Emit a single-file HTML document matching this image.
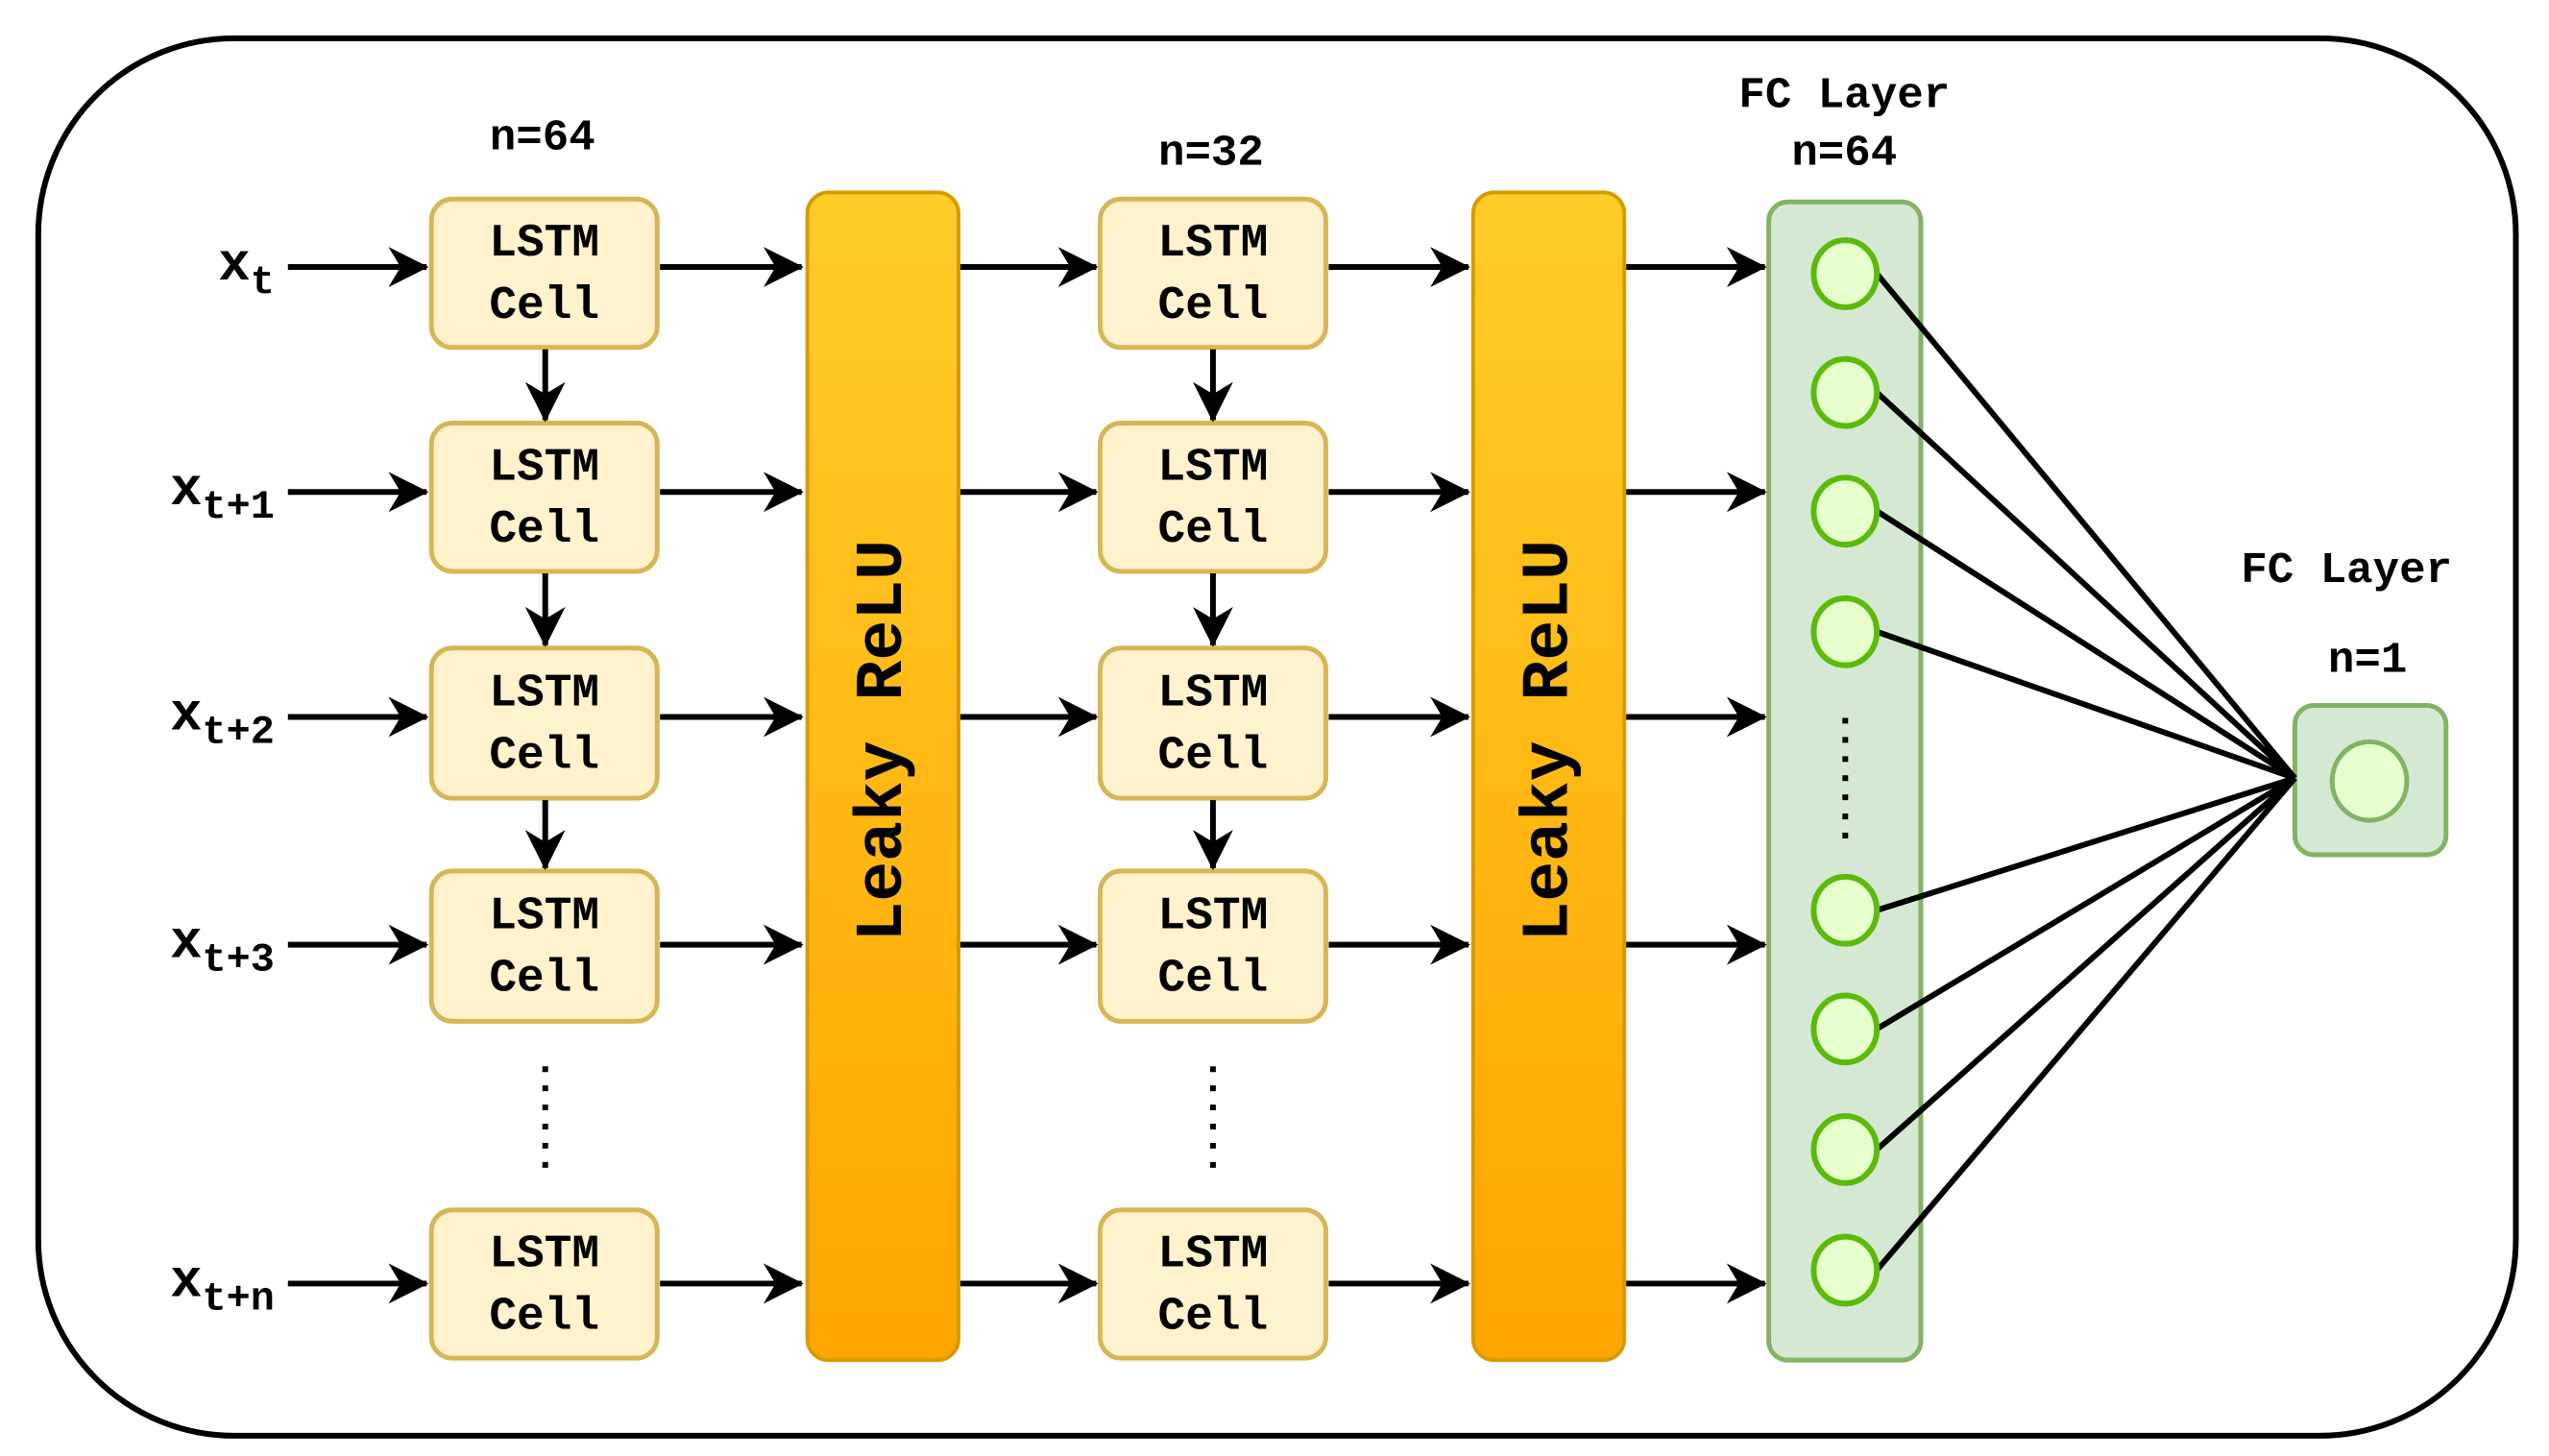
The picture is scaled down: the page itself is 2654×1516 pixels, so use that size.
<!DOCTYPE html>
<html><head><meta charset="utf-8"><style>html,body{margin:0;padding:0;background:#fff}svg{display:block}</style></head>
<body>
<svg width="2654" height="1516" viewBox="0 0 2654 1516" xmlns="http://www.w3.org/2000/svg">
<defs>
<linearGradient id="g" x1="0" y1="0" x2="0" y2="1"><stop offset="0" stop-color="#ffcd28"/><stop offset="1" stop-color="#ffa500"/></linearGradient>
<marker id="a" viewBox="0 0 20 20" refX="19" refY="10" markerWidth="7" markerHeight="7" markerUnits="strokeWidth" orient="auto"><path d="M0,0 L20,10 L0,20 L6,10 Z" fill="#000"/></marker>
</defs>
<g transform="scale(0.996,0.9966)">
<rect x="40" y="40" width="2590" height="1460" rx="205" fill="#fff" stroke="#000" stroke-width="6"/>
<g font-family="'Liberation Mono',monospace" font-weight="bold" fill="#000">
<rect x="844" y="201" width="158" height="1220" rx="22" fill="url(#g)" stroke="#d79b00" stroke-width="4"/>
<rect x="1540" y="201" width="158" height="1220" rx="22" fill="url(#g)" stroke="#d79b00" stroke-width="4"/>
<text transform="translate(942,774) rotate(-90)" font-size="70" text-anchor="middle">Leaky ReLU</text>
<text transform="translate(1638,774) rotate(-90)" font-size="70" text-anchor="middle">Leaky ReLU</text>
<rect x="1849" y="211" width="159" height="1210" rx="20" fill="#d5e8d4" stroke="#82b366" stroke-width="5"/>
<rect x="2399" y="737" width="158" height="156" rx="20" fill="#d5e8d4" stroke="#82b366" stroke-width="5"/>
<ellipse cx="2477" cy="816" rx="39" ry="41" fill="#e6ffcc" stroke="#82b366" stroke-width="5"/>
<g stroke="#000" stroke-width="6">
<line x1="1962" y1="286" x2="2399" y2="813"/><line x1="1962" y1="410" x2="2399" y2="813"/>
<line x1="1962" y1="534" x2="2399" y2="813"/><line x1="1962" y1="660" x2="2399" y2="813"/>
<line x1="1962" y1="951" x2="2399" y2="813"/><line x1="1962" y1="1075" x2="2399" y2="813"/>
<line x1="1962" y1="1201" x2="2399" y2="813"/><line x1="1962" y1="1327" x2="2399" y2="813"/>
</g>
<g fill="#e6ffcc" stroke="#5cbb0a" stroke-width="6">
<ellipse cx="1929" cy="286" rx="33" ry="35"/><ellipse cx="1929" cy="410" rx="33" ry="35"/>
<ellipse cx="1929" cy="534" rx="33" ry="35"/><ellipse cx="1929" cy="660" rx="33" ry="35"/>
<ellipse cx="1929" cy="951" rx="33" ry="35"/><ellipse cx="1929" cy="1075" rx="33" ry="35"/>
<ellipse cx="1929" cy="1201" rx="33" ry="35"/><ellipse cx="1929" cy="1327" rx="33" ry="35"/>
</g>
<g stroke="#000" stroke-width="6" stroke-dasharray="6,14">
<line x1="1929" y1="750" x2="1929" y2="880"/>
<line x1="570" y1="1114" x2="570" y2="1220"/>
<line x1="1268" y1="1114" x2="1268" y2="1220"/>
</g>
<g fill="#fff2cc" stroke="#d6b656" stroke-width="5">
<rect x="451" y="208" width="236" height="155" rx="22"/><rect x="451" y="442" width="236" height="155" rx="22"/>
<rect x="451" y="677" width="236" height="157" rx="22"/><rect x="451" y="910" width="236" height="157" rx="22"/>
<rect x="451" y="1264" width="236" height="155" rx="22"/>
<rect x="1150" y="208" width="236" height="155" rx="22"/><rect x="1150" y="442" width="236" height="155" rx="22"/>
<rect x="1150" y="677" width="236" height="157" rx="22"/><rect x="1150" y="910" width="236" height="157" rx="22"/>
<rect x="1150" y="1264" width="236" height="155" rx="22"/>
</g>
<g font-size="48" text-anchor="middle">
<text x="569" y="267">LSTM</text><text x="569" y="332">Cell</text>
<text x="569" y="501">LSTM</text><text x="569" y="566">Cell</text>
<text x="569" y="737">LSTM</text><text x="569" y="802">Cell</text>
<text x="569" y="970">LSTM</text><text x="569" y="1035">Cell</text>
<text x="569" y="1323">LSTM</text><text x="569" y="1388">Cell</text>
<text x="1268" y="267">LSTM</text><text x="1268" y="332">Cell</text>
<text x="1268" y="501">LSTM</text><text x="1268" y="566">Cell</text>
<text x="1268" y="737">LSTM</text><text x="1268" y="802">Cell</text>
<text x="1268" y="970">LSTM</text><text x="1268" y="1035">Cell</text>
<text x="1268" y="1323">LSTM</text><text x="1268" y="1388">Cell</text>
</g>
<g stroke="#000" stroke-width="6" marker-end="url(#a)">
<line x1="301" y1="279" x2="446" y2="279"/><line x1="301" y1="514" x2="446" y2="514"/>
<line x1="301" y1="749" x2="446" y2="749"/><line x1="301" y1="987" x2="446" y2="987"/>
<line x1="301" y1="1341" x2="446" y2="1341"/>
<line x1="690" y1="279" x2="838" y2="279"/><line x1="690" y1="514" x2="838" y2="514"/>
<line x1="690" y1="749" x2="838" y2="749"/><line x1="690" y1="987" x2="838" y2="987"/>
<line x1="690" y1="1341" x2="838" y2="1341"/>
<line x1="1004" y1="279" x2="1146" y2="279"/><line x1="1004" y1="514" x2="1146" y2="514"/>
<line x1="1004" y1="749" x2="1146" y2="749"/><line x1="1004" y1="987" x2="1146" y2="987"/>
<line x1="1004" y1="1341" x2="1146" y2="1341"/>
<line x1="1389" y1="279" x2="1535" y2="279"/><line x1="1389" y1="514" x2="1535" y2="514"/>
<line x1="1389" y1="749" x2="1535" y2="749"/><line x1="1389" y1="987" x2="1535" y2="987"/>
<line x1="1389" y1="1341" x2="1535" y2="1341"/>
<line x1="1700" y1="279" x2="1845" y2="279"/><line x1="1700" y1="514" x2="1845" y2="514"/>
<line x1="1700" y1="749" x2="1845" y2="749"/><line x1="1700" y1="987" x2="1845" y2="987"/>
<line x1="1700" y1="1341" x2="1845" y2="1341"/>
<line x1="570" y1="365" x2="570" y2="439"/><line x1="570" y1="599" x2="570" y2="674"/>
<line x1="570" y1="836" x2="570" y2="907"/>
<line x1="1268" y1="365" x2="1268" y2="439"/><line x1="1268" y1="599" x2="1268" y2="674"/>
<line x1="1268" y1="836" x2="1268" y2="907"/>
</g>
<g font-size="46" text-anchor="middle">
<text x="567" y="156">n=64</text><text x="1266" y="172">n=32</text>
<text x="1928" y="112">FC Layer</text><text x="1928" y="172">n=64</text>
<text x="2453" y="608">FC Layer</text><text x="2475" y="702">n=1</text>
</g>
<g font-size="56" text-anchor="end">
<text x="287" y="292">x<tspan font-size="42" dy="14">t</tspan></text>
<text x="287" y="527">x<tspan font-size="42" dy="14">t+1</tspan></text>
<text x="287" y="762">x<tspan font-size="42" dy="14">t+2</tspan></text>
<text x="287" y="1000">x<tspan font-size="42" dy="14">t+3</tspan></text>
<text x="287" y="1354">x<tspan font-size="42" dy="14">t+n</tspan></text>
</g>
</g>
</g>
</svg>
</body></html>
